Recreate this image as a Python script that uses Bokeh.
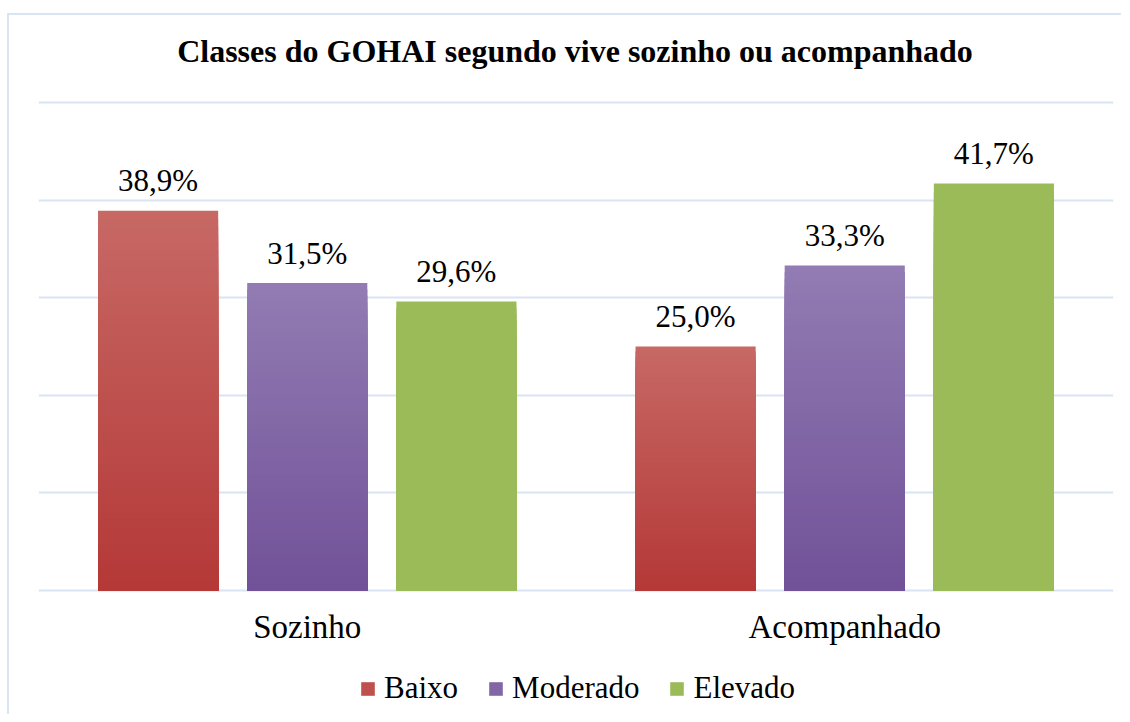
from bokeh.plotting import figure
from bokeh.layouts import column
from bokeh.models import ColumnDataSource, Range1d, FactorRange, Legend, LegendItem, Div
from bokeh.transform import dodge
from bokeh.embed import file_html
from bokeh.resources import INLINE
from bokeh.core.properties import value

# ---- data ----
title_text = "Classes do GOHAI segundo vive sozinho ou acompanhado"
categories = ["Sozinho", "Acompanhado"]
series_names = ["Baixo", "Moderado", "Elevado"]
baixo = [38.9, 25.0]
moderado = [31.5, 33.3]
elevado = [29.6, 41.7]
y_ticks = [0, 10, 20, 30, 40, 50]

# ---- styles ----
FONT = "Liberation Serif"
GRID = "#d9e4f4"
grad_top = [(199, 104, 101), (146, 124, 179), (155, 187, 89)]
grad_bot = [(180, 57, 55), (113, 81, 152), (155, 187, 89)]
offsets = [-0.2775, 0.0, 0.2775]
BAR_W = 0.2235
NSTRIP = 48

# ---- title ----
title_div = Div(
    text=('<div style="box-sizing:content-box; width:1092px; padding-left:20px; '
          'padding-top:18px; text-align:center; '
          'font-family:\'Liberation Serif\'; font-weight:bold; font-size:32px; '
          'line-height:36px; color:#000000; white-space:nowrap;">%s</div>' % title_text),
    width=1112, height=56, margin=0)

p = figure(x_range=FactorRange(*categories), y_range=Range1d(-0.2, 50.2),
           width=1112, height=589, output_backend="svg", toolbar_location=None,
           min_border_left=29, min_border_right=8, min_border_top=29, min_border_bottom=68)
p.outline_line_color = None
p.background_fill_color = "white"
p.border_fill_color = "white"

p.yaxis.visible = False
p.ygrid.ticker = y_ticks
p.ygrid.grid_line_color = GRID
p.ygrid.grid_line_width = 2
p.xgrid.grid_line_color = None

p.xaxis.axis_line_color = None
p.xaxis.major_tick_line_color = None
p.xaxis.minor_tick_line_color = None
p.xaxis.major_tick_out = 0
p.xaxis.major_label_standoff = 16
p.xaxis.major_label_text_font = FONT
p.xaxis.major_label_text_font_size = "33px"
p.xaxis.major_label_text_color = "#000000"


def mix(c1, c2, t):
    r = [int(round(a + (b - a) * t)) for a, b in zip(c1, c2)]
    return "#%02x%02x%02x" % tuple(r)


all_series = [baixo, moderado, elevado]
legend_cols = []
for si, (name, vals) in enumerate(zip(series_names, all_series)):
    xs, bots, tops, cols = [], [], [], []
    for cat, v in zip(categories, vals):
        # overlapping layers from the baseline, tallest first -> vertical gradient
        for j in range(NSTRIP):
            xs.append(cat)
            bots.append(0)
            tops.append(v * (NSTRIP - j) / NSTRIP)
            t = (NSTRIP - j - 0.5) / NSTRIP
            cols.append(mix(grad_bot[si], grad_top[si], t))
    src = ColumnDataSource(dict(x=xs, bottom=bots, top=tops, color=cols))
    p.vbar(x=dodge("x", offsets[si], range=p.x_range), bottom="bottom", top="top",
           width=BAR_W, fill_color="color", line_color=None, source=src)
    legend_cols.append(mix(grad_bot[si], grad_top[si], 0.5))

    lab_src = ColumnDataSource(dict(
        x=categories, y=vals,
        t=[("%.1f" % v).replace(".", ",") + "%" for v in vals]))
    p.text(x=dodge("x", offsets[si], range=p.x_range), y="y", text="t", source=lab_src,
           text_font=value(FONT), text_font_size="31px", text_color="#000000",
           text_align="center", text_baseline="alphabetic", y_offset=-30)

# ---- legend strip below the chart (its bars lie outside its visible range) ----
p2 = figure(width=1112, height=54, output_backend="svg", toolbar_location=None,
            x_range=FactorRange(*categories), y_range=Range1d(1000, 1001), min_border=0)
p2.axis.visible = False
p2.grid.grid_line_color = None
p2.outline_line_color = None
p2.background_fill_color = "white"
p2.border_fill_color = "white"
items = []
for name, c, vals in zip(series_names, legend_cols, all_series):
    r = p2.vbar(x=categories, top=vals, width=0.1, fill_color=c, line_color=None)
    items.append(LegendItem(label=name, renderers=[r], index=0))
legend = Legend(items=items, orientation="horizontal", location=(321, 8))
legend.label_text_font = FONT
legend.label_text_font_size = "31px"
legend.label_text_color = "#000000"
legend.glyph_width = 17
legend.glyph_height = 17
legend.label_standoff = 8
legend.spacing = 29
legend.padding = 0
legend.margin = 0
legend.border_line_color = None
legend.background_fill_alpha = 0
p2.add_layout(legend, "center")

layout = column(title_div, p, p2, spacing=0)
layout.styles = {"border-top": "2px solid " + GRID, "border-left": "2px solid " + GRID,
                 "margin-top": "13px", "margin-left": "7px", "background-color": "white"}

open("out.html", "w").write(file_html(layout, INLINE))
